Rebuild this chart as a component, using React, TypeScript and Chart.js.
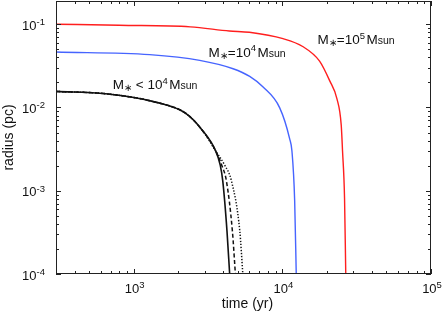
import React, { useEffect, useRef } from "react";
import { Chart, registerables } from "chart.js";

Chart.register(...registerables);

// ---- data (time in yr, radius in pc) ----
const redTime = [300, 800, 2400, 4400, 6000, 10100, 13700, 17800, 20800, 23300, 24900, 25400, 26200, 26700];
const redRadius = [0.1, 0.097, 0.093, 0.083, 0.08, 0.067, 0.054, 0.036, 0.021, 0.0127, 0.0061, 0.003, 0.00082, 0.0001];

const blueTime = [300, 1280, 2780, 4660, 6030, 7420, 9600, 11200, 11600, 12100, 12400];
const blueRadius = [0.0463, 0.0431, 0.0368, 0.0292, 0.0236, 0.0176, 0.0099, 0.0042, 0.003, 0.00076, 0.0001];

const blackSharedTime = [300, 650, 1400, 2240, 2900, 3560];
const blackSharedRadius = [0.0156, 0.0146, 0.0116, 0.0085, 0.0053, 0.003];

const blackSolidTime = [3820, 3970, 4240, 4420];
const blackSolidRadius = [0.00203, 0.00132, 0.00033, 0.0001];
const blackDashedTime = [3910, 4200, 4610, 4830];
const blackDashedRadius = [0.00203, 0.00132, 0.00033, 0.0001];
const blackDottedTime = [4090, 4540, 5170, 5420];
const blackDottedRadius = [0.00203, 0.00132, 0.00033, 0.0001];

const xDecades = [3, 4, 5];
const yDecades = [-1, -2, -3, -4];
const xRange = [300, 1e5];
const yRange = [1e-4, 0.19];

const labelHigh = { t: 17260, r: 0.0575, exp: "5", rel: "=" };
const labelMid = { t: 3190, r: 0.0405, exp: "4", rel: "=" };
const labelLow = { t: 723, r: 0.01644, exp: "4", rel: " < " };

const FONT = '"Liberation Sans", Arial, Helvetica, sans-serif';

function pts(t: number[], r: number[]) {
  return t.map((v, i) => ({ x: v, y: r[i] }));
}

type Part = { text: string; size: number; dy?: number; gap?: number };

function drawRich(ctx: CanvasRenderingContext2D, parts: Part[], x: number, y: number, align: string) {
  let w = 0;
  const widths: number[] = [];
  for (const p of parts) {
    ctx.font = `${p.size}px ${FONT}`;
    const pw = ctx.measureText(p.text).width + (p.gap || 0);
    widths.push(pw);
    w += pw;
  }
  let cx = align === "right" ? x - w : align === "center" ? x - w / 2 : x;
  parts.forEach((p, i) => {
    ctx.font = `${p.size}px ${FONT}`;
    ctx.fillText(p.text, cx, y + (p.dy || 0));
    cx += widths[i];
  });
}

const framePlugin = {
  id: "framePlugin",
  afterDraw(chart: any) {
    const ctx: CanvasRenderingContext2D = chart.ctx;
    const { left, right, top, bottom } = chart.chartArea;
    const xs = chart.scales.x;
    const ys = chart.scales.y;
    ctx.save();
    ctx.strokeStyle = "#222";
    ctx.lineWidth = 1;
    ctx.strokeRect(left + 0.5, top + 0.5, right - left - 1, bottom - top - 1);

    // ticks
    ctx.beginPath();
    for (let d = 2; d <= 5; d++) {
      for (let k = 1; k <= 9; k++) {
        const v = k * Math.pow(10, d);
        if (v < xRange[0] || v > xRange[1]) continue;
        const px = Math.round(xs.getPixelForValue(v)) + 0.5;
        const len = k === 1 ? 5 : 3;
        ctx.moveTo(px, bottom);
        ctx.lineTo(px, bottom - len);
        ctx.moveTo(px, top);
        ctx.lineTo(px, top + len);
      }
    }
    for (let d = -4; d <= -1; d++) {
      for (let k = 1; k <= 9; k++) {
        const v = k * Math.pow(10, d);
        if (v < yRange[0] || v > yRange[1]) continue;
        const py = Math.round(ys.getPixelForValue(v)) + 0.5;
        const len = k === 1 ? 5 : 3;
        ctx.moveTo(left, py);
        ctx.lineTo(left + len, py);
        ctx.moveTo(right, py);
        ctx.lineTo(right - len, py);
      }
    }
    ctx.stroke();

    // tick labels
    ctx.fillStyle = "#111";
    ctx.textBaseline = "alphabetic";
    ctx.textAlign = "left";
    for (const d of xDecades) {
      const px = xs.getPixelForValue(Math.pow(10, d));
      drawRich(ctx, [
        { text: "10", size: 13 },
        { text: String(d), size: 9.5, dy: -5.5 },
      ], px + 1, 293, "center");
    }
    for (const d of yDecades) {
      const py = ys.getPixelForValue(Math.pow(10, d));
      drawRich(ctx, [
        { text: "10", size: 13 },
        { text: "-" + String(-d), size: 9.5, dy: -4.5 },
      ], 45, py + 5.5, "right");
    }

    // axis titles
    ctx.font = `14px ${FONT}`;
    ctx.textAlign = "center";
    ctx.textBaseline = "middle";
    ctx.fillText("time (yr)", (left + right) / 2 + 4, 304);
    ctx.save();
    ctx.translate(9, (top + bottom) / 2);
    ctx.rotate(-Math.PI / 2);
    ctx.fillText("radius (pc)", 0, 0);
    ctx.restore();

    // curve labels
    ctx.textAlign = "left";
    ctx.textBaseline = "alphabetic";
    for (const lab of [labelHigh, labelMid, labelLow]) {
      const px = xs.getPixelForValue(lab.t);
      const py = ys.getPixelForValue(lab.r);
      drawRich(ctx, [
        { text: "M", size: 13.5 },
        { text: "\u2217", size: 10, dy: 2 },
        { text: lab.rel, size: 13.5 },
        { text: "10", size: 13.5 },
        { text: lab.exp, size: 9.5, dy: -5.5, gap: 1.5 },
        { text: "M", size: 13.5 },
        { text: "sun", size: 10.5 },
      ], px, py, "left");
    }
    ctx.restore();
  },
};

export default function App() {
  const ref = useRef<HTMLCanvasElement | null>(null);
  useEffect(() => {
    if (!ref.current) return;
    const common = {
      pointRadius: 0,
      fill: false,
      cubicInterpolationMode: "monotone" as const,
    };
    const chart = new Chart(ref.current, {
      type: "line",
      data: {
        datasets: [
          { ...common, data: pts(redTime, redRadius), borderColor: "rgb(255,30,30)", borderWidth: 1.4 },
          { ...common, data: pts(blueTime, blueRadius), borderColor: "rgb(70,100,255)", borderWidth: 1.4 },
          {
            ...common,
            data: pts(blackSharedTime.concat(blackDottedTime), blackSharedRadius.concat(blackDottedRadius)),
            borderColor: "#111",
            borderWidth: 1.5,
            borderDash: [1.3, 1.7],
          },
          {
            ...common,
            data: pts(blackSharedTime.concat(blackDashedTime), blackSharedRadius.concat(blackDashedRadius)),
            borderColor: "#111",
            borderWidth: 1.5,
            borderDash: [4, 2.5],
          },
          {
            ...common,
            data: pts(blackSharedTime.concat(blackSolidTime), blackSharedRadius.concat(blackSolidRadius)),
            borderColor: "#111",
            borderWidth: 1.6,
          },
        ],
      },
      options: {
        responsive: false,
        animation: false,
        layout: { padding: { left: 56, right: 16, top: 1, bottom: 42 } },
        plugins: { legend: { display: false }, tooltip: { enabled: false } },
        scales: {
          x: { type: "logarithmic", min: xRange[0], max: xRange[1], display: false },
          y: { type: "logarithmic", min: yRange[0], max: yRange[1], display: false },
        },
      },
      plugins: [framePlugin],
    });
    return () => chart.destroy();
  }, []);
  return (
    <div style={{ position: "absolute", left: 0, top: 0, width: 447, height: 316, background: "#fff" }}>
      <canvas ref={ref} width={447} height={316} style={{ display: "block" }} />
    </div>
  );
}
